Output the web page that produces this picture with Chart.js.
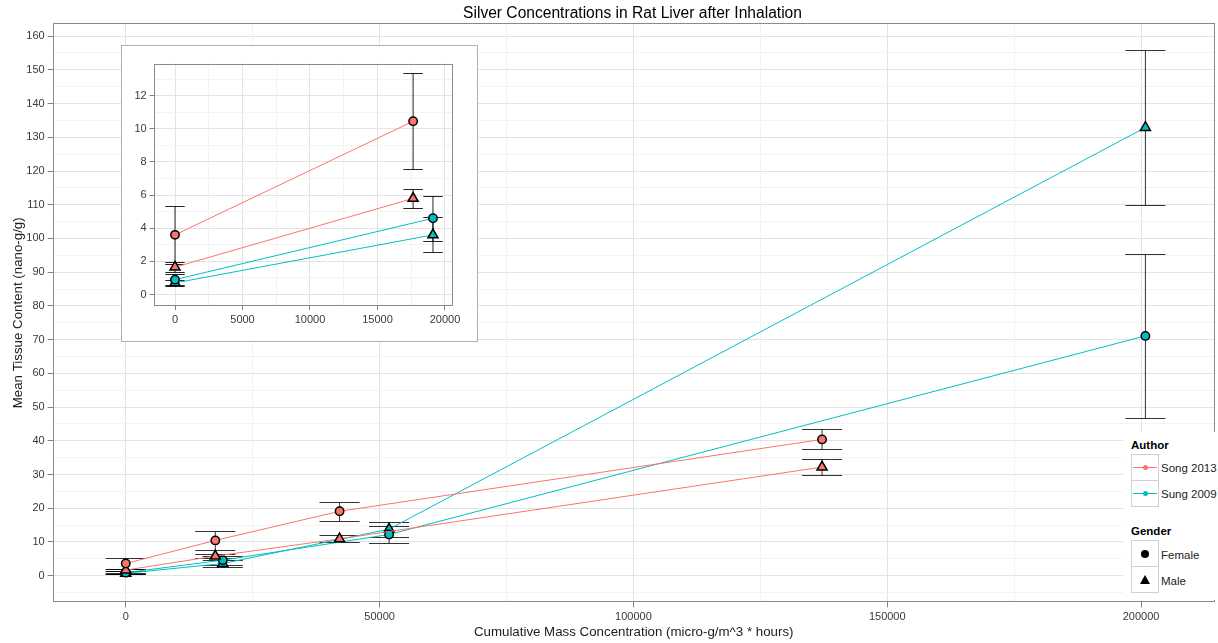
<!DOCTYPE html>
<html>
<head>
<meta charset="utf-8">
<script src="https://cdn.jsdelivr.net/npm/chart.js@4.4.1/dist/chart.umd.min.js"></script>
<style>
  html, body { margin: 0; padding: 0; background: #fff; overflow: hidden; }
  body { width: 1218px; height: 643px; position: relative; font-family: "Liberation Sans", Arial, sans-serif; color: #000; }
  #main { position: absolute; left: 0; top: 0; }
  #insetBox { position: absolute; left: 121px; top: 45px; width: 357px; height: 297px; box-sizing: border-box; border: 1px solid #b0b0b0; background: #fff; }
  #inset { position: absolute; left: 0; top: 0; }
  #title { position: absolute; left: 0; top: 3px; width: 1265px; text-align: center; font-size: 15.6px; line-height: 19px; }
  #legendBg { position: absolute; left: 1123px; top: 432px; width: 95px; height: 168px; background: #fff; }
  .lgTitle { position: absolute; left: 1131px; font-size: 11.5px; font-weight: bold; line-height: 14px; color: #000; }
  .lgLabel { position: absolute; left: 1161px; font-size: 11.5px; line-height: 14px; color: #222; white-space: nowrap; }
  .key { position: absolute; left: 1131px; width: 28px; box-sizing: border-box; border: 1px solid #d0d0d0; background: #fff; }
  .key .ln { position: absolute; left: 1px; right: 1px; top: 50%; height: 1px; margin-top: -0.5px; }
  .key .dot { position: absolute; left: 50%; top: 50%; width: 5px; height: 5px; margin: -2.5px 0 0 -2.5px; border-radius: 50%; }
  .key .circ { position: absolute; left: 50%; top: 50%; width: 8px; height: 8px; margin: -4px 0 0 -4px; border-radius: 50%; background: #000; }
  .key .tri { position: absolute; left: 50%; top: 50%; width: 0; height: 0; margin: -5px 0 0 -5px; border-left: 5px solid transparent; border-right: 5px solid transparent; border-bottom: 9px solid #000; }
</style>
</head>
<body>
<canvas id="main" width="1222" height="643"></canvas>
<div id="title">Silver Concentrations in Rat Liver after Inhalation</div>
<div id="insetBox"><canvas id="inset" width="355" height="295"></canvas></div>

<div id="legendBg"></div>
<div class="lgTitle" style="top:438px">Author</div>
<div class="key" style="top:454px;height:27px"><div class="ln" style="background:#F8766D"></div><div class="dot" style="background:#F8766D"></div></div>
<div class="key" style="top:480px;height:27px"><div class="ln" style="background:#00BFC4"></div><div class="dot" style="background:#00BFC4"></div></div>
<div class="lgLabel" style="top:461px">Song 2013</div>
<div class="lgLabel" style="top:487px">Sung 2009</div>
<div class="lgTitle" style="top:524px">Gender</div>
<div class="key" style="top:540px;height:27px"><div class="circ"></div></div>
<div class="key" style="top:566px;height:27px"><div class="tri"></div></div>
<div class="lgLabel" style="top:548px">Female</div>
<div class="lgLabel" style="top:574px">Male</div>

<script>
// exposure (micro-g/m^3 * hours)
const songX = [0, 17640, 42120, 137160];
const sungX = [0, 19110, 51870, 200850];

// mean liver silver (nano-g/g) and error half-widths
const songFemale = [3.6, 10.45, 19.1, 40.4];
const songFemaleErr = [1.75, 2.9, 2.75, 2.95];
const songMale = [1.65, 5.8, 10.9, 32.2];
const songMaleErr = [0.3, 0.55, 1.05, 2.25];
const sungFemale = [0.9, 4.6, 12.2, 71.1];
const sungFemaleErr = [0.35, 1.35, 2.6, 24.3];
const sungMale = [0.7, 3.6, 13.8, 132.9];
const sungMaleErr = [0.2, 1.05, 2.2, 22.9];

const RED = '#F8766D';
const CYAN = '#00BFC4';
const MAJOR = '#e3e3e3';
const MINOR = '#f3f3f3';
const TICKTXT = '#3a3a3a';
const FONT = '"Liberation Sans", Arial, sans-serif';

function series(xs, ys, errs, color, shape, n) {
  return {
    data: xs.slice(0, n).map((x, i) => ({ x: x, y: ys[i] })),
    errors: errs.slice(0, n),
    borderColor: color,
    borderWidth: 1,
    pointBackgroundColor: color,
    pointBorderColor: '#000',
    pointBorderWidth: 1.5,
    pointStyle: shape,
    pointRadius: shape == 'triangle' ? 5.8 : 4.2,
    pointHoverRadius: shape == 'triangle' ? 5.8 : 4.2,
    tension: 0,
    fill: false
  };
}

function makeSets(n) {
  return [
    series(songX, songFemale, songFemaleErr, RED, 'circle', n),
    series(songX, songMale, songMaleErr, RED, 'triangle', n),
    series(sungX, sungFemale, sungFemaleErr, CYAN, 'circle', n),
    series(sungX, sungMale, sungMaleErr, CYAN, 'triangle', n)
  ];
}

const errorBars = {
  id: 'errorBars',
  beforeDatasetsDraw(chart, args, opts) {
    const ctx = chart.ctx;
    const x = chart.scales.x, y = chart.scales.y;
    ctx.save();
    ctx.strokeStyle = opts.color;
    ctx.lineWidth = 1;
    chart.data.datasets.forEach(ds => {
      ds.data.forEach((p, i) => {
        const e = ds.errors[i];
        const px = x.getPixelForValue(p.x);
        const x0 = x.getPixelForValue(p.x - opts.cap);
        const x1 = x.getPixelForValue(p.x + opts.cap);
        const yt = Math.round(y.getPixelForValue(p.y + e)) + 0.5;
        const yb = Math.round(y.getPixelForValue(p.y - e)) + 0.5;
        ctx.beginPath();
        ctx.moveTo(px, yt); ctx.lineTo(px, yb);
        ctx.moveTo(x0, yt); ctx.lineTo(x1, yt);
        ctx.moveTo(x0, yb); ctx.lineTo(x1, yb);
        ctx.stroke();
      });
    });
    ctx.restore();
  }
};

const panelBorder = {
  id: 'panelBorder',
  afterDraw(chart) {
    const a = chart.chartArea, ctx = chart.ctx;
    ctx.save();
    ctx.strokeStyle = '#8a8a8a';
    ctx.lineWidth = 1;
    ctx.strokeRect(Math.round(a.left) + 0.5, Math.round(a.top) + 0.5,
      Math.round(a.right - a.left) - 1, Math.round(a.bottom - a.top) - 1);
    ctx.restore();
  }
};

// step = grid spacing (minor), majorEvery = labelled ticks
function axis(min, max, step, majorEvery, tickLen, opts) {
  const isMajor = v => Math.abs(v % majorEvery) < 1e-9;
  return Object.assign({
    type: 'linear',
    min: min,
    max: max,
    border: { display: false },
    afterBuildTicks: s => {
      const t = [];
      for (let v = Math.ceil(s.min / step) * step; v <= s.max; v += step) t.push({ value: v });
      s.ticks = t;
    },
    grid: {
      color: c => c.tick && isMajor(c.tick.value) ? MAJOR : MINOR,
      tickColor: c => c.tick && isMajor(c.tick.value) ? '#7f7f7f' : 'rgba(0,0,0,0)',
      tickLength: tickLen,
      lineWidth: 1
    },
    ticks: {
      autoSkip: false,
      maxRotation: 0,
      padding: 3,
      color: TICKTXT,
      font: { family: FONT, size: 11 },
      callback: v => isMajor(v) ? String(v) : ''
    }
  }, opts);
}

// main chart
new Chart(document.getElementById('main'), {
  type: 'line',
  data: { datasets: makeSets(4) },
  options: {
    responsive: false,
    animation: false,
    layout: { padding: { top: 23.3, right: 2, bottom: 0, left: 0 } },
    scales: {
      x: axis(-14390, 214500, 25000, 50000, 5, {
        afterFit: s => { s.height = 40.7; },
        title: {
          display: true,
          text: 'Cumulative Mass Concentration (micro-g/m^3 * hours)',
          color: '#222',
          font: { family: FONT, size: 13.3 },
          padding: { top: 0, bottom: 3 }
        }
      }),
      y: axis(-7.9, 163.8, 5, 10, 5, {
        afterFit: s => { s.width = 52.7; },
        title: {
          display: true,
          text: 'Mean Tissue Content (nano-g/g)',
          color: '#222',
          font: { family: FONT, size: 13.3 },
          padding: { top: 10, bottom: 0 }
        }
      })
    },
    plugins: {
      legend: { display: false },
      tooltip: { enabled: false },
      errorBars: { cap: 3950, color: 'rgba(0,0,0,0.8)' }
    }
  },
  plugins: [errorBars, panelBorder]
});

// inset: the two lowest exposures
new Chart(document.getElementById('inset'), {
  type: 'line',
  data: { datasets: makeSets(2) },
  options: {
    responsive: false,
    animation: false,
    layout: { padding: { top: 17.6, right: 24, bottom: 0, left: 0 } },
    scales: {
      x: axis(-1578, 20593, 2500, 5000, 4, {
        afterFit: s => { s.height = 35; }
      }),
      y: axis(-0.69, 13.93, 1, 2, 4, {
        afterFit: s => { s.width = 31.7; }
      })
    },
    plugins: {
      legend: { display: false },
      tooltip: { enabled: false },
      errorBars: { cap: 720, color: 'rgba(0,0,0,0.85)' }
    }
  },
  plugins: [errorBars, panelBorder]
});
</script>
</body>
</html>
